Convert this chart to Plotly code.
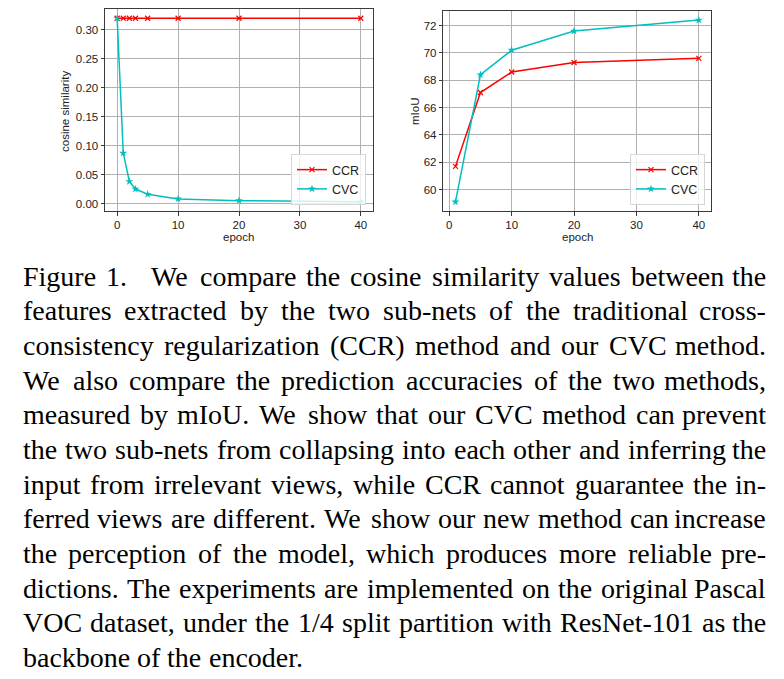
import plotly.graph_objects as go

# ---------------- data ----------------
epochs_cos = [0, 1, 2, 3, 5, 10, 20, 40]
ccr_cos = [0.32, 0.32, 0.32, 0.32, 0.32, 0.32, 0.32, 0.32]
cvc_cos = [0.32, 0.087, 0.038, 0.025, 0.016, 0.008, 0.005, 0.003]

epochs_miou = [1, 5, 10, 20, 40]
ccr_miou = [61.7, 67.1, 68.6, 69.3, 69.6]
cvc_miou = [59.1, 68.4, 70.2, 71.6, 72.4]

x_ticks = [0, 10, 20, 30, 40]
cos_ticks = [0.00, 0.05, 0.10, 0.15, 0.20, 0.25, 0.30]
miou_ticks = [60, 62, 64, 66, 68, 70, 72]

caption_lines = [
    "Figure 1.  We compare the cosine similarity values between the",
    "features extracted by the two sub-nets of the traditional cross-",
    "consistency regularization (CCR) method and our CVC method.",
    "We also compare the prediction accuracies of the two methods,",
    "measured by mIoU. We show that our CVC method can prevent",
    "the two sub-nets from collapsing into each other and inferring the",
    "input from irrelevant views, while CCR cannot guarantee the in-",
    "ferred views are different. We show our new method can increase",
    "the perception of the model, which produces more reliable pre-",
    "dictions. The experiments are implemented on the original Pascal",
    "VOC dataset, under the 1/4 split partition with ResNet-101 as the",
    "backbone of the encoder.",
]

# ---------------- layout constants ----------------
W, H = 784, 679
RED = "#ff0000"
CYAN = "#00bfbf"
SANS = "Liberation Sans"
SERIF = "Liberation Serif"


def px_x(v):
    return v / W


def px_y(v):
    return 1 - v / H


fig = go.Figure()

common_line = dict(width=1.5)
fig.add_trace(go.Scatter(x=epochs_cos, y=ccr_cos, mode="lines+markers", name="CCR",
                         line=dict(color=RED, **common_line),
                         marker=dict(symbol="x-thin", size=5, line=dict(width=1.2, color=RED)),
                         xaxis="x", yaxis="y", legend="legend"))
fig.add_trace(go.Scatter(x=epochs_cos, y=cvc_cos, mode="lines+markers", name="CVC",
                         line=dict(color=CYAN, **common_line),
                         marker=dict(symbol="star", size=6, color=CYAN),
                         xaxis="x", yaxis="y", legend="legend"))
fig.add_trace(go.Scatter(x=epochs_miou, y=ccr_miou, mode="lines+markers", name="CCR",
                         line=dict(color=RED, **common_line),
                         marker=dict(symbol="x-thin", size=5, line=dict(width=1.2, color=RED)),
                         xaxis="x2", yaxis="y2", legend="legend2"))
fig.add_trace(go.Scatter(x=epochs_miou, y=cvc_miou, mode="lines+markers", name="CVC",
                         line=dict(color=CYAN, **common_line),
                         marker=dict(symbol="star", size=6, color=CYAN),
                         xaxis="x2", yaxis="y2", legend="legend2"))

axis_style = dict(showgrid=True, gridcolor="#b0b0b0", gridwidth=0.8, showline=True, mirror=True,
                  linecolor="#3a3a3a", linewidth=1, ticks="outside", ticklen=3.5, tickwidth=1,
                  tickcolor="#3a3a3a", zeroline=False, automargin=False,
                  tickfont=dict(family=SANS, size=11.5, color="#222"))

fig.update_layout(
    width=W, height=H, margin=dict(l=0, r=0, t=0, b=0),
    paper_bgcolor="white", plot_bgcolor="white", template="none",
    xaxis=dict(domain=[px_x(105), px_x(373)], range=[-2, 42], tickvals=x_ticks, anchor="y", **axis_style),
    yaxis=dict(domain=[px_y(211), px_y(9)], range=[-0.0129, 0.3359], tickvals=cos_ticks,
               tickformat=".2f", anchor="x", **axis_style),
    xaxis2=dict(domain=[px_x(443.3), px_x(711)], range=[-0.95, 41.95], tickvals=x_ticks, anchor="y2", **axis_style),
    yaxis2=dict(domain=[px_y(211), px_y(11)], range=[58.435, 73.065], tickvals=miou_ticks, anchor="x2", **axis_style),
    legend=dict(x=px_x(366), y=px_y(205), xanchor="right", yanchor="bottom",
                bgcolor="rgba(255,255,255,0.8)", bordercolor="#d6d6d6", borderwidth=1,
                font=dict(family=SANS, size=12.5, color="#222"), itemwidth=30, tracegroupgap=0),
    legend2=dict(x=px_x(705), y=px_y(205), xanchor="right", yanchor="bottom",
                 bgcolor="rgba(255,255,255,0.8)", bordercolor="#d6d6d6", borderwidth=1,
                 font=dict(family=SANS, size=12.5, color="#222"), itemwidth=30, tracegroupgap=0),
)

annotations = []
# axis titles
for txt, x, y, ang in [("cosine similarity", 65, 112, -90), ("epoch", 238.7, 237, 0),
                       ("mIoU", 415, 112, -90), ("epoch", 577, 237, 0)]:
    annotations.append(dict(text=txt, x=px_x(x), y=px_y(y), xref="paper", yref="paper",
                            xanchor="center", yanchor="middle", showarrow=False, textangle=ang,
                            font=dict(family=SANS, size=11.5, color="#222")))

# caption: justified text, word by word
TIMES = {
    ' ': 250, 'a': 444, 'b': 500, 'c': 444, 'd': 500, 'e': 444, 'f': 333, 'g': 500, 'h': 500,
    'i': 278, 'j': 278, 'k': 500, 'l': 278, 'm': 778, 'n': 500, 'o': 500, 'p': 500, 'q': 500,
    'r': 333, 's': 389, 't': 278, 'u': 500, 'v': 500, 'w': 722, 'x': 500, 'y': 500, 'z': 444,
    'A': 722, 'B': 667, 'C': 667, 'D': 722, 'E': 611, 'F': 556, 'G': 722, 'H': 722, 'I': 333,
    'J': 389, 'K': 722, 'L': 611, 'M': 889, 'N': 722, 'O': 722, 'P': 556, 'Q': 722, 'R': 667,
    'S': 556, 'T': 611, 'U': 722, 'V': 722, 'W': 944, 'X': 722, 'Y': 722, 'Z': 611,
    '.': 250, ',': 250, '-': 333, '(': 333, ')': 333, '/': 278,
}
FS = 28
LEFT, RIGHT = 21.7, 767.0
BASE0, LEAD = 288.3, 34.64


def word_w(w):
    return sum(TIMES.get(c, 500) for c in w) / 1000 * FS


for i, line in enumerate(caption_lines):
    yc = BASE0 + i * LEAD - 12.0
    words = line.split()
    extra = [0.0] * len(words)
    if i == 0:
        extra[1] = 14.0  # wider space after the figure label
    widths = [word_w(w) for w in words]
    last = i == len(caption_lines) - 1
    if last:
        gap = TIMES[' '] / 1000 * FS
    else:
        gap = (RIGHT - LEFT - sum(widths) - sum(extra)) / (len(words) - 1)
    x = LEFT
    for j, w in enumerate(words):
        if j == len(words) - 1 and not last:
            annotations.append(dict(text=w, x=px_x(RIGHT), y=px_y(yc), xref="paper", yref="paper",
                                    xanchor="right", yanchor="middle", showarrow=False, borderpad=0,
                                    font=dict(family=SERIF, size=FS, color="black")))
        else:
            annotations.append(dict(text=w, x=px_x(x), y=px_y(yc), xref="paper", yref="paper",
                                    xanchor="left", yanchor="middle", showarrow=False, borderpad=0,
                                    font=dict(family=SERIF, size=FS, color="black")))
        x += widths[j] + extra[j] + gap

fig.update_layout(annotations=annotations)

fig.write_html("out.html", config={"displayModeBar": False},
               post_script="document.body.style.margin='0';")
